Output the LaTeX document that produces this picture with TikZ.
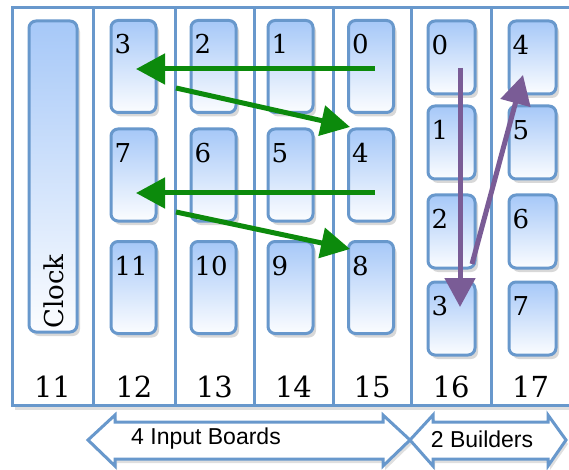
\documentclass[tikz,border=0pt]{standalone}
\usepackage{fontspec}
\newfontfamily\sansf{Liberation Sans}
\newfontfamily\seriff{DejaVu Serif}
\usetikzlibrary{shadows,arrows.meta}
\definecolor{bord}{RGB}{104,152,204}
\definecolor{boxtop}{RGB}{166,200,248}
\definecolor{grn}{RGB}{12,138,12}
\definecolor{purp}{RGB}{122,92,150}
\begin{document}
\begin{tikzpicture}[x=1pt,y=-1pt,
  colbox/.style={draw=bord, line width=3pt, fill=white, inner sep=0pt,
    drop shadow={shadow xshift=3pt,shadow yshift=-5pt,opacity=0.25}},
  card/.style={draw=bord, line width=3pt, rounded corners=7pt, top color=boxtop,
    bottom color=white!96!boxtop, inner sep=0pt,
    drop shadow={shadow xshift=3pt,shadow yshift=-4pt,opacity=0.3}},
  lab/.style={anchor=base west, inner sep=0pt, xshift=5pt, yshift=-35pt, font=\seriff\fontsize{26}{28}\selectfont},
  colnum/.style={anchor=base, inner sep=0pt, font=\seriff\fontsize{29}{31}\selectfont},
  garrow/.style={draw=grn, line width=5pt, -{Triangle[length=29pt,width=30pt]}},
  parrow/.style={draw=purp, line width=5pt, -{Triangle[length=29pt,width=30pt]}},
  bigarrow/.style={draw=bord, line width=3pt, fill=white, line join=miter,
    drop shadow={shadow xshift=2pt,shadow yshift=-4pt,opacity=0.25}},
  atext/.style={inner sep=0pt, font=\sansf\fontsize{23}{25}\selectfont}]
\useasboundingbox (0,0) rectangle (569,470);
% columns
\node[colbox, minimum width=81pt, minimum height=397pt] (col11) at (52.5,206.5) {};
\node[colbox, minimum width=82pt, minimum height=397pt] (col12) at (134,206.5) {};
\node[colbox, minimum width=79pt, minimum height=397pt] (col13) at (214.5,206.5) {};
\node[colbox, minimum width=79pt, minimum height=397pt] (col14) at (293.5,206.5) {};
\node[colbox, minimum width=78pt, minimum height=397pt] (col15) at (372,206.5) {};
\node[colbox, minimum width=80pt, minimum height=397pt] (col16) at (451,206.5) {};
\node[colbox, minimum width=79pt, minimum height=397pt] (col17) at (530.5,206.5) {};
% column numbers
\node[colnum] (n11) at (52.5,397) {11};
\node[colnum] (n12) at (134,397) {12};
\node[colnum] (n13) at (214.5,397) {13};
\node[colnum] (n14) at (293.5,397) {14};
\node[colnum] (n15) at (372,397) {15};
\node[colnum] (n16) at (451,397) {16};
\node[colnum] (n17) at (530.5,397) {17};
% clock
\node[card, minimum width=48pt, minimum height=311pt] (clock) at (53,176.5) {};
\node[rotate=90, anchor=base west, inner sep=0pt, font=\seriff\fontsize{26}{28}\selectfont] (clocktext) at (63,329) {Clock};
% input cards
\foreach \nm/\x/\y/\t in {a3/133.5/66.5/3, a2/213.5/66.5/2, a1/290.5/66.5/1, a0/371/66.5/0,
  a7/133.5/175/7, a6/213.5/175/6, a5/290.5/175/5, a4/371/175/4,
  a11/133.5/287.5/11, a10/213.5/287.5/10, a9/290.5/287.5/9, a8/371/287.5/8}
  \node[card, minimum width=45pt, minimum height=92pt, label={[lab]north west:\t}] (\nm) at (\x,\y) {};
% builder cards
\foreach \nm/\x/\y/\t in {b0/451.5/57.5/0, b1/451.5/142.5/1, b2/451.5/231.5/2, b3/451.5/318.5/3,
  c4/532.5/57.5/4, c5/532.5/142.5/5, c6/532.5/231.5/6, c7/532.5/318.5/7}
  \node[card, minimum width=47pt, minimum height=73pt, label={[lab]north west:\t}] (\nm) at (\x,\y) {};
% green arrows
\coordinate (g1s) at (375,69);  \coordinate (g1e) at (136,69);
\coordinate (g2s) at (176,88);  \coordinate (g2e) at (350,127);
\coordinate (g3s) at (375,193); \coordinate (g3e) at (136,193);
\coordinate (g4s) at (176,212); \coordinate (g4e) at (350,249);
\draw[garrow] (g1s) -- (g1e);
\draw[garrow] (g2s) -- (g2e);
\draw[garrow] (g3s) -- (g3e);
\draw[garrow] (g4s) -- (g4e);
% purple arrows
\coordinate (p1s) at (460,68);  \coordinate (p1e) at (460,307);
\coordinate (p2s) at (472,264); \coordinate (p2e) at (523,75);
\draw[parrow] (p1s) -- (p1e);
\draw[parrow] (p2s) -- (p2e);
% bottom arrows
\draw[bigarrow] (88,440) -- (115,415) -- (115,422) -- (383,422) -- (383,415) -- (410,440)
  -- (383,466) -- (383,459) -- (115,459) -- (115,466) -- cycle;
\draw[bigarrow] (410,440) -- (433,415) -- (433,422) -- (548,422) -- (548,415) -- (566,440)
  -- (548,466) -- (548,459) -- (433,459) -- (433,466) -- cycle;
\node[atext] (inb) at (206,439) {4 Input Boards};
\node[atext] (bld) at (482,439) {2 Builders};
\end{tikzpicture}
\end{document}
